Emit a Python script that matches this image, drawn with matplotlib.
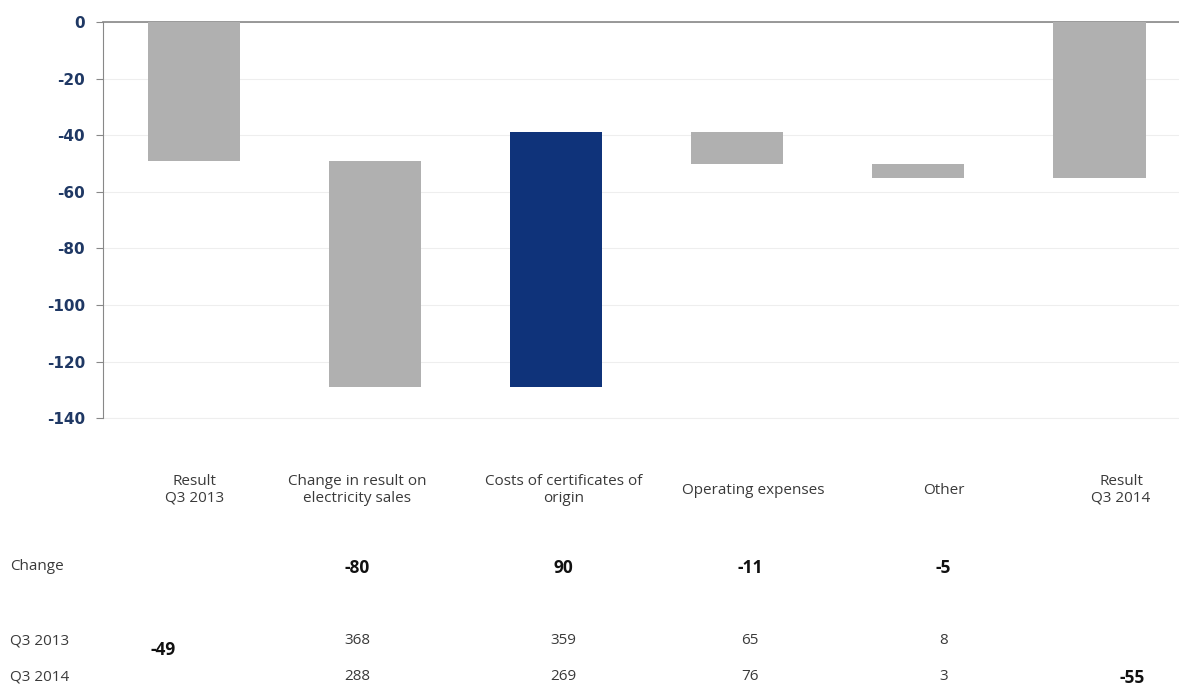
import matplotlib.pyplot as plt
import matplotlib.transforms as mtransforms
import numpy as np

# bridge from Q3 2013 result to Q3 2014 result
categories = ["Result\nQ3 2013", "Change in result on\nelectricity sales",
              "Costs of certificates of\norigin", "Operating expenses",
              "Other", "Result\nQ3 2014"]
result_2013 = -49
result_2014 = -55
changes = [-80, 90, -11, -5]
q3_2013 = [368, 359, 65, 8]
q3_2014 = [288, 269, 76, 3]
yticks = [0, -20, -40, -60, -80, -100, -120, -140]

grey = "#b0b0b0"
blue = "#0f337a"
navy = "#1f3864"
txt = "#3a3a3a"

# waterfall segments
tops = [0]
bottoms = [result_2013]
run = result_2013
for c in changes:
    start = run
    run = run + c
    tops.append(max(start, run))
    bottoms.append(min(start, run))
tops.append(0)
bottoms.append(result_2014)
colors = [grey, grey, blue, grey, grey, grey]

x = np.arange(len(categories))
heights = np.array(tops) - np.array(bottoms)

fig = plt.figure(figsize=(11.79, 6.89), dpi=100)
ax = fig.add_axes([0.0874, 0.393, 0.9126, 0.575])
ax.bar(x, heights, bottom=bottoms, width=0.51, color=colors, zorder=3)

ax.set_xlim(-0.503, 5.44)
ax.set_ylim(-140, 0)
ax.set_yticks(yticks)
ax.set_yticklabels([str(v) for v in yticks], fontsize=11, fontweight="bold",
                   color=navy, family="DejaVu Sans")
ax.set_xticks([])
ax.grid(axis="y", color="#eeeeee", linewidth=0.8, zorder=0)
ax.axhline(-140, color="#eeeeee", linewidth=0.8, clip_on=False, zorder=0)
ax.tick_params(axis="y", length=5, color="#888888", pad=8)
for s in ["right", "bottom"]:
    ax.spines[s].set_visible(False)
ax.spines["left"].set_color("#888888")
ax.spines["top"].set_color("#888888")
ax.spines["top"].set_linewidth(1.2)

tr = mtransforms.blended_transform_factory(ax.transData, fig.transFigure)
fy = lambda py: 1 - py / 689.0
font = "Open Sans"
fs = 11
fsb = 12.5

label_x = [0, 0.9, 2.04, 3.09, 4.14, 5.12]
for lx, lab in zip(label_x, categories):
    ax.text(lx, fy(490), lab, transform=tr, ha="center", va="center",
            fontsize=fs, color=txt, family=font, linespacing=1.1)

# row titles
for py, name in [(567, "Change"), (641, "Q3 2013"), (677, "Q3 2014")]:
    fig.text(10 / 1179, fy(py), name, ha="left", va="center",
             fontsize=fs, color=txt, family=font)

row_x = [0.9, 2.04, 3.07, 4.14]
for rx, c, a, b in zip(row_x, changes, q3_2013, q3_2014):
    ax.text(rx, fy(568), str(c), transform=tr, ha="center", va="center",
            fontsize=fsb, fontweight="bold", color="#111111", family=font)
    ax.text(rx, fy(641), str(a), transform=tr, ha="center", va="center",
            fontsize=fs, color=txt, family=font)
    ax.text(rx, fy(677), str(b), transform=tr, ha="center", va="center",
            fontsize=fs, color=txt, family=font)

ax.text(-0.17, fy(650), str(result_2013), transform=tr, ha="center",
        va="center", fontsize=fsb, fontweight="bold", color="#111111", family=font)
ax.text(5.18, fy(678), str(result_2014), transform=tr, ha="center",
        va="center", fontsize=fsb, fontweight="bold", color="#111111", family=font)

fig.savefig("out.png", dpi=100, facecolor="white")
